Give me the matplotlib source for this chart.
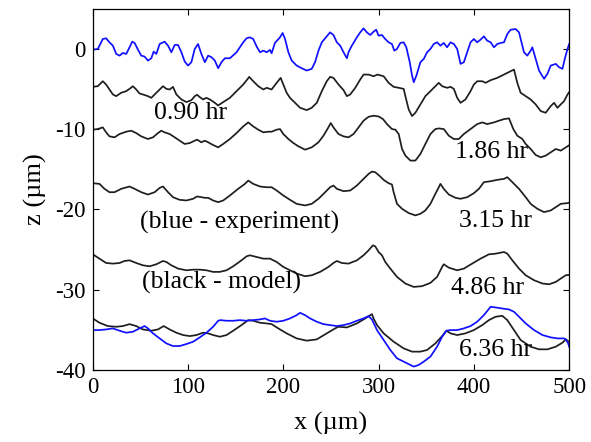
import matplotlib
matplotlib.use("Agg")
import matplotlib.pyplot as plt

plt.rcParams['font.family'] = ['Liberation Serif', 'DejaVu Serif']
plt.rcParams['axes.unicode_minus'] = False

# ---- data (x in um, z in um) ----
exp0_x = [0, 5.3, 10.5, 14.0, 17.5, 21.1, 24.6, 28.1, 31.6, 35.1, 38.6, 41.4, 43.9, 47.4, 50.9, 54.4,
          57.9, 61.4, 63.9, 66.7, 70.2, 75.4, 79.0, 82.5, 86.0, 89.5, 93.0, 96.5, 100.0, 103.5, 107.0,
          110.5, 114.0, 117.6, 121.1, 124.6, 128.1, 131.6, 135.1, 138.6, 143.9, 150.9, 157.9, 161.4,
          164.9, 168.4, 171.9, 175.5, 179.0, 182.5, 186.0, 187.7, 191.2, 196.5, 199.3, 201.8, 205.3,
          208.8, 214.0, 219.3, 224.6, 229.8, 233.3, 236.9, 240.4, 245.6, 249.1, 252.6, 256.2, 259.7,
          263.2, 266.7, 268.4, 271.9, 277.2, 280.7, 284.2, 287.7, 291.2, 294.7, 297.5, 300.0, 303.5,
          307.0, 310.5, 314.0, 316.5, 319.3, 322.8, 326.3, 329.1, 332.7, 335.1, 336.9, 339.7, 343.9,
          347.4, 350.9, 354.4, 357.9, 361.4, 364.9, 368.4, 371.9, 375.5, 379.0, 382.5, 386.0, 389.5,
          393.0, 396.5, 400.0, 403.5, 407.0, 410.5, 414.0, 417.6, 421.1, 424.6, 428.1, 431.6, 435.1,
          438.6, 443.9, 447.4, 450.9, 452.6, 456.1, 459.6, 461.4, 464.9, 468.4, 473.7, 477.2, 480.7,
          486.0, 489.5, 493.0, 495.4, 498.3, 500.0]
exp0_z = [-0.08, 0.0, 1.24, 1.33, 0.83, 0.41, -0.62, -0.83, -0.50, -0.62, 0.21, 0.91, 0.75, -0.08, -0.83,
          -0.95, -1.45, -1.16, -0.33, -0.62, 0.62, 0.91, 0.41, -0.41, 0.50, 0.50, -0.41, -1.57, -2.07,
          -1.65, 0.0, 0.62, -0.62, -1.65, -0.83, -1.03, -1.45, -2.40, -1.65, -1.16, -1.16, -0.41, 0.83,
          1.33, 1.45, 1.24, 0.33, -0.41, -0.21, -0.41, -0.12, -0.54, 0.75, 1.45, 1.99, 1.24, -0.41, -1.45,
          -2.07, -2.40, -2.69, -2.48, -1.65, -0.21, 0.83, 1.57, 2.07, 1.74, 0.83, 0.41, -0.41, -1.16,
          -0.41, 0.41, 1.45, 2.07, 2.57, 2.07, 1.74, 2.15, 2.40, 1.66, 1.74, 1.24, 0.83, 0.62, -0.21, 0.0,
          0.75, 0.83, 0.21, -1.65, -3.31, -4.14, -3.31, -1.65, -1.24, -0.41, 0.0, 0.62, 0.83, 0.41, 0.75,
          0.21, 0.83, 0.62, 0.0, -1.86, -1.65, -0.41, 0.83, 1.24, 0.83, 1.16, 1.57, 1.04, 0.83, 0.21,
          0.62, 0.75, 0.83, 1.86, 2.40, 2.48, 2.07, 0.41, -0.41, -0.83, -0.21, 0.21, -1.24, -2.69, -3.72,
          -3.10, -2.07, -1.86, -2.28, -2.48, -1.24, 0.0, 0.6]

m090_x = [0, 5.3, 10.5, 14.0, 17.5, 21.1, 24.6, 29.8, 35.1, 38.6, 42.1, 45.6, 49.1, 52.6, 57.9, 61.4,
          66.7, 70.2, 73.7, 77.2, 80.7, 84.2, 87.7, 93.0, 98.3, 103.5, 107.0, 109.5, 112.3, 115.8, 119.3,
          122.8, 128.1, 131.6, 136.9, 143.9, 150.9, 157.9, 162.1, 164.2, 168.4, 173.7, 179.0, 182.5,
          187.7, 193.0, 197.2, 200.0, 203.5, 207.0, 212.3, 217.6, 224.6, 229.8, 235.1, 240.4, 245.6,
          249.1, 252.6, 257.9, 263.2, 266.7, 270.2, 275.5, 280.7, 284.2, 289.5, 294.7, 298.9, 305.3,
          310.5, 315.8, 321.1, 326.3, 328.1, 331.6, 335.1, 338.6, 343.9, 349.1, 354.4, 359.6, 363.2,
          366.7, 371.9, 375.5, 379.0, 382.5, 386.0, 391.2, 396.5, 400.0, 403.5, 408.8, 412.3, 417.6,
          424.6, 431.6, 438.6, 442.1, 445.6, 449.1, 454.4, 459.6, 464.9, 470.2, 475.4, 480.7, 484.2,
          487.7, 491.2, 494.7, 498.3, 500.0]
m090_z = [-4.72, -4.64, -4.02, -4.43, -5.05, -5.67, -5.88, -5.46, -5.26, -4.97, -4.64, -5.05, -5.55,
          -5.67, -5.88, -6.09, -5.46, -5.05, -4.64, -4.97, -5.05, -4.72, -5.67, -6.29, -6.62, -6.38,
          -5.88, -5.71, -6.00, -6.29, -6.09, -6.29, -6.71, -7.04, -6.62, -6.09, -5.26, -4.43, -3.81,
          -3.48, -4.02, -4.64, -5.05, -4.84, -5.05, -4.22, -3.60, -4.43, -5.46, -6.09, -6.71, -7.33,
          -7.62, -7.33, -6.71, -5.26, -4.02, -3.48, -3.60, -4.43, -5.13, -5.88, -5.67, -4.84, -3.81,
          -3.19, -3.19, -3.40, -3.19, -3.40, -4.22, -4.72, -4.84, -4.97, -5.88, -7.54, -8.36, -7.95,
          -6.91, -5.88, -5.26, -4.64, -4.22, -4.64, -4.84, -4.72, -4.97, -6.09, -6.71, -6.29, -5.26,
          -4.43, -4.02, -4.02, -4.22, -3.89, -3.60, -3.19, -2.77, -2.57, -4.22, -5.46, -5.88, -6.29,
          -6.91, -7.74, -7.95, -7.12, -6.71, -7.33, -6.91, -6.50, -5.67, -5.4]

m186_x = [0, 5.3, 10.5, 14.0, 17.5, 22.8, 28.1, 35.1, 40.4, 45.6, 50.9, 57.9, 63.2, 68.4, 71.9, 75.4,
          80.7, 86.0, 91.2, 96.5, 101.8, 107.0, 109.5, 114.0, 117.6, 121.1, 126.3, 131.6, 136.9, 143.9,
          150.9, 157.9, 163.2, 168.4, 173.7, 179.0, 184.2, 187.7, 193.0, 196.5, 200.0, 205.3, 210.5,
          215.8, 222.8, 229.8, 236.9, 242.1, 246.3, 249.8, 252.6, 257.9, 263.2, 268.4, 273.7, 279.0,
          284.2, 289.5, 294.7, 300.0, 304.6, 308.8, 314.0, 317.6, 321.1, 324.6, 328.1, 333.4, 338.6,
          343.9, 349.1, 354.4, 359.6, 363.2, 368.4, 373.7, 379.0, 384.2, 389.5, 396.5, 403.5, 408.8,
          414.0, 421.1, 426.3, 431.6, 436.9, 441.4, 445.6, 450.9, 454.4, 459.6, 464.9, 470.2, 475.4,
          480.7, 486.0, 491.2, 498.3, 500.0]
m186_z = [-10.06, -9.98, -9.77, -10.39, -10.89, -11.01, -10.60, -10.31, -10.19, -10.48, -10.89, -11.22,
          -11.01, -10.48, -10.19, -10.39, -10.60, -11.01, -11.43, -11.84, -11.72, -11.43, -11.30, -11.63,
          -11.43, -11.63, -11.97, -12.26, -11.84, -11.22, -10.48, -9.65, -9.15, -9.65, -10.06, -10.39,
          -10.31, -10.31, -10.06, -9.98, -10.60, -11.22, -11.72, -12.13, -12.55, -12.26, -11.63, -10.81,
          -9.98, -9.23, -9.77, -10.60, -10.89, -11.01, -10.60, -9.77, -8.94, -8.45, -8.32, -8.41, -8.74,
          -9.36, -9.98, -10.06, -10.60, -12.46, -13.29, -13.91, -13.91, -13.08, -11.84, -10.60, -9.98,
          -9.90, -9.98, -10.81, -11.22, -11.22, -10.60, -9.98, -9.36, -9.15, -9.36, -9.15, -8.94, -8.74,
          -8.65, -9.98, -10.81, -11.22, -11.84, -12.46, -13.21, -13.50, -13.29, -12.88, -12.46, -12.67,
          -12.13, -12.0]

m315_x = [0, 7.0, 12.3, 17.5, 22.8, 29.8, 38.6, 43.9, 50.9, 57.9, 64.9, 70.2, 73.7, 79.0, 84.2, 91.2,
          98.3, 105.3, 109.5, 114.0, 117.6, 121.1, 126.3, 131.6, 136.9, 143.9, 152.6, 159.7, 163.2,
          168.4, 175.5, 182.5, 187.7, 193.0, 200.0, 207.0, 214.0, 222.8, 229.8, 236.9, 243.9, 249.1,
          252.6, 256.2, 263.2, 270.2, 277.2, 284.2, 289.5, 293.0, 296.5, 301.8, 305.3, 310.5, 314.0,
          315.8, 319.3, 324.6, 331.6, 338.6, 343.9, 349.1, 354.4, 359.6, 363.2, 364.9, 368.4, 373.7,
          380.7, 386.0, 393.0, 400.0, 405.3, 410.5, 417.6, 424.6, 431.6, 435.1, 440.4, 447.4, 454.4,
          459.6, 466.7, 473.7, 480.7, 486.0, 491.2, 498.3, 500.0]
m315_z = [-16.73, -16.81, -17.43, -17.85, -17.85, -17.43, -17.14, -17.43, -17.85, -18.14, -17.85,
          -17.31, -17.14, -17.85, -18.47, -18.80, -18.88, -18.67, -18.38, -18.47, -18.55, -18.55,
          -18.88, -19.09, -18.88, -18.26, -17.43, -16.81, -16.40, -16.81, -17.14, -17.23, -17.23,
          -17.64, -18.26, -18.80, -19.30, -19.50, -19.30, -18.67, -17.85, -17.23, -17.02, -17.43,
          -17.72, -17.64, -17.02, -16.19, -15.57, -15.28, -15.36, -15.90, -16.31, -16.73, -16.89,
          -17.85, -19.30, -19.92, -20.45, -20.74, -20.54, -20.12, -19.30, -18.05, -17.23, -16.81,
          -17.43, -18.14, -18.55, -18.67, -18.47, -17.97, -17.43, -16.60, -16.48, -16.31, -16.19,
          -15.98, -16.60, -17.43, -18.47, -19.30, -19.92, -20.33, -20.12, -19.71, -19.30, -19.21, -19.15]

m486_x = [0, 7.0, 14.0, 21.1, 28.1, 33.3, 38.6, 45.6, 52.6, 59.7, 66.7, 73.7, 77.2, 82.5, 89.5, 98.3,
          105.3, 112.3, 119.3, 126.3, 133.3, 140.4, 147.4, 156.1, 161.4, 164.9, 171.9, 179.0, 186.0,
          193.0, 200.0, 207.0, 214.0, 222.8, 229.8, 238.6, 247.4, 252.6, 256.2, 261.4, 268.4, 277.2,
          284.2, 289.5, 294.0, 296.5, 300.0, 303.5, 307.0, 312.3, 319.3, 328.1, 336.9, 345.6, 354.4,
          361.4, 366.7, 368.4, 373.7, 382.5, 389.5, 398.2, 407.0, 415.8, 422.8, 431.6, 435.1, 440.4,
          447.4, 454.4, 463.2, 472.0, 479.0, 486.0, 491.2, 496.5, 500.0]
m486_z = [-25.59, -26.13, -26.67, -26.75, -26.67, -26.42, -26.34, -26.67, -26.96, -27.08, -26.83,
          -26.42, -26.54, -26.96, -27.37, -27.58, -27.50, -27.50, -27.58, -27.78, -27.78, -27.58,
          -27.08, -26.34, -25.84, -25.71, -25.92, -26.13, -26.13, -26.54, -27.16, -27.58, -27.99,
          -28.32, -28.20, -27.78, -27.16, -26.67, -26.42, -26.67, -26.75, -26.34, -25.71, -25.09,
          -24.47, -24.60, -25.30, -25.71, -26.54, -27.37, -28.40, -29.23, -29.65, -29.56, -29.15,
          -28.40, -27.16, -26.83, -27.25, -27.58, -27.37, -26.75, -26.13, -25.59, -25.51, -25.30,
          -25.51, -26.34, -27.37, -28.20, -28.82, -29.23, -29.32, -29.03, -28.61, -28.20, -28.15]

m636_x = [0, 7.0, 15.8, 24.6, 31.6, 38.6, 45.6, 52.6, 61.4, 68.4, 74.4, 80.7, 87.7, 94.7, 101.8,
          108.8, 115.8, 121.1, 126.3, 133.3, 140.4, 147.4, 156.1, 163.2, 168.4, 175.5, 182.5, 187.7,
          194.7, 203.5, 214.0, 224.6, 235.1, 245.6, 254.4, 257.9, 266.7, 277.2, 286.0, 293.0, 294.7,
          298.3, 305.3, 315.8, 326.3, 335.1, 343.9, 350.9, 359.6, 366.7, 371.2, 375.5, 382.5, 391.2,
          400.0, 408.8, 415.8, 422.8, 429.8, 435.1, 442.1, 449.1, 459.6, 468.4, 477.2, 486.0, 493.0,
          496.5, 500.0]
m636_z = [-33.58, -34.12, -34.53, -34.62, -34.53, -34.29, -34.53, -34.95, -35.11, -34.95, -34.53,
          -34.95, -35.36, -35.65, -35.78, -35.65, -35.36, -35.44, -35.65, -35.86, -35.65, -35.11,
          -34.41, -33.79, -33.87, -34.12, -34.20, -34.29, -34.82, -35.44, -36.07, -36.35, -36.19,
          -35.44, -34.82, -34.62, -34.70, -34.20, -33.58, -33.04, -33.58, -34.41, -35.44, -36.48,
          -37.31, -37.72, -37.72, -37.51, -36.69, -35.78, -35.11, -35.44, -35.65, -35.44, -35.03,
          -34.41, -33.79, -33.37, -33.25, -33.79, -35.03, -36.27, -37.10, -37.43, -37.43, -37.10,
          -36.60, -36.19, -36.5]

exp6_x = [0, 7.0, 14.0, 21.1, 28.1, 35.1, 42.1, 49.1, 54.4, 57.9, 63.2, 70.2, 77.2, 84.2, 91.2, 98.3,
          105.3, 112.3, 119.3, 126.3, 131.6, 134.0, 140.4, 147.4, 154.4, 161.4, 168.4, 175.5, 180.7,
          186.0, 193.0, 200.0, 207.0, 214.0, 217.6, 222.8, 228.1, 235.1, 242.1, 249.1, 256.2, 263.2,
          270.2, 277.2, 284.2, 289.5, 293.0, 298.3, 305.3, 312.3, 319.3, 326.3, 333.4, 336.9, 342.1,
          347.4, 354.4, 361.4, 366.7, 371.2, 375.5, 382.5, 389.5, 396.5, 403.5, 410.5, 417.6, 422.8,
          429.8, 436.9, 442.1, 447.4, 454.4, 463.2, 472.0, 480.7, 487.7, 494.7, 496.5, 499.0, 500.0]
exp6_z = [-35.03, -35.03, -34.95, -34.82, -35.11, -35.36, -35.24, -34.82, -34.53, -34.82, -35.44,
          -36.07, -36.69, -37.02, -37.02, -36.77, -36.48, -35.94, -35.36, -34.62, -33.87, -33.79,
          -33.87, -33.87, -33.79, -33.87, -33.79, -33.70, -33.58, -33.87, -33.99, -33.87, -33.58,
          -33.17, -32.88, -33.17, -33.58, -33.99, -34.29, -34.41, -34.53, -34.41, -34.20, -33.87,
          -33.58, -33.29, -33.70, -35.03, -36.27, -37.51, -38.55, -38.96, -39.38, -39.58, -39.38,
          -38.96, -38.34, -37.10, -35.86, -35.11, -35.03, -35.03, -34.82, -34.53, -33.99, -33.17,
          -32.13, -32.21, -32.34, -32.46, -32.75, -33.37, -34.20, -35.03, -35.65, -35.94, -36.07,
          -36.07, -36.19, -36.69, -37.1]

labels = ["0.90 hr", "1.86 hr", "3.15 hr", "4.86 hr", "6.36 hr",
          "(blue - experiment)", "(black - model)"]
label_x = [103, 419, 423, 414, 423, 154, 135]
label_z = [-8.0, -12.9, -21.4, -29.8, -37.5, -21.6, -29.1]

xticks = [0, 100, 200, 300, 400, 500]
yticks = [0, -10, -20, -30, -40]

# ---- figure ----
fig = plt.figure(figsize=(5.91, 4.42), dpi=100)
ax = fig.add_axes([0.157, 0.163, 0.806, 0.817])

blk = '#1e1e1e'
lw = 1.25
ax.plot(exp0_x, exp0_z, color='#1010ff', lw=lw)
for xs, zs in [(m090_x, m090_z), (m186_x, m186_z), (m315_x, m315_z),
               (m486_x, m486_z), (m636_x, m636_z)]:
    ax.plot(xs, zs, color=blk, lw=lw)
ax.plot(exp6_x, exp6_z, color='#1010ff', lw=lw)

for t, lx, lz in zip(labels, label_x, label_z):
    ax.text(lx, lz, t, fontsize=18.5, ha='center', va='center', color='black')

ax.set_xlim(0, 500)
ax.set_ylim(-40, 5)
ax.set_xticks(xticks)
ax.set_yticks(yticks)
ax.tick_params(direction='in', top=True, right=True, length=4, labelsize=16.5, width=0.8, pad=5)
for s in ax.spines.values():
    s.set_linewidth(0.9)
ax.set_xlabel('x (µm)', fontsize=19, labelpad=10)
ax.set_ylabel('z (µm)', fontsize=19, labelpad=6)

fig.savefig('out.png', dpi=100)
